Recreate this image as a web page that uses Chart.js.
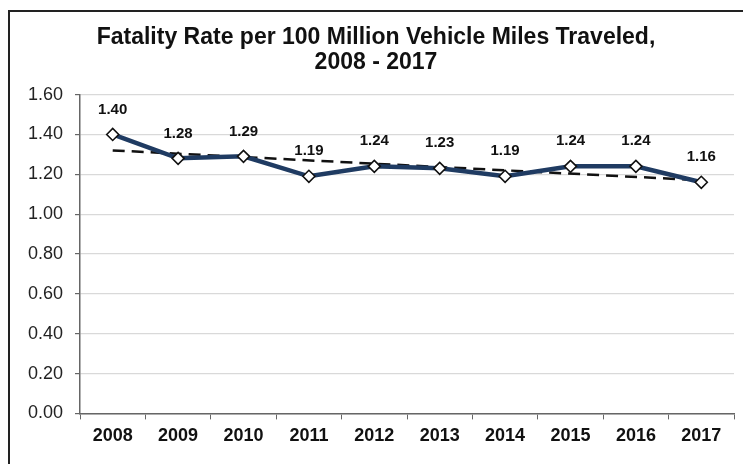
<!DOCTYPE html>
<html><head><meta charset="utf-8">
<script src="https://cdn.jsdelivr.net/npm/chart.js@4/dist/chart.umd.min.js"></script>
<style>
html,body{margin:0;padding:0;background:#fff;overflow:hidden}
#wrap{position:relative;width:743px;height:464px}
#frame{position:absolute;left:8px;top:10px;width:800px;height:600px;border-left:2px solid #222;border-top:2px solid #222;box-sizing:border-box;pointer-events:none}
canvas{position:absolute;left:0;top:0}
</style></head>
<body><div id="wrap"><canvas id="c" width="743" height="464"></canvas><div id="frame"></div></div>
<script>
const years = ['2008','2009','2010','2011','2012','2013','2014','2015','2016','2017'];
const fatalityRate = [1.40,1.28,1.29,1.19,1.24,1.23,1.19,1.24,1.24,1.16];
const trendEnds = [1.32,null,null,null,null,null,null,null,null,1.17];
const yTicks = [0,0.2,0.4,0.6,0.8,1.0,1.2,1.4,1.6];
const titleLines = ['Fatality Rate per 100 Million Vehicle Miles Traveled,','2008 - 2017'];

const FONT = '"Liberation Sans", Arial, sans-serif';

const labelPlugin = {
  id:'pointLabels',
  afterDatasetsDraw(chart){
    const ctx = chart.ctx;
    const meta = chart.getDatasetMeta(0);
    ctx.save();
    ctx.font = 'bold 15px ' + FONT;
    ctx.fillStyle = '#111';
    ctx.textAlign = 'center';
    ctx.textBaseline = 'middle';
    meta.data.forEach((pt,i)=>{
      ctx.fillText(fatalityRate[i].toFixed(2), pt.x, pt.y - 25);
    });
    ctx.restore();
  }
};

new Chart(document.getElementById('c'), {
  type:'line',
  data:{
    labels: years,
    datasets:[
      {
        data: fatalityRate,
        borderColor:'#1f3b62',
        borderWidth:4.5,
        pointStyle:'rectRot',
        pointRadius:6,
        pointBackgroundColor:'#fff',
        pointBorderColor:'#111',
        pointBorderWidth:1.6,
        tension:0,
        order:1
      },
      {
        data: trendEnds,
        spanGaps:true,
        borderColor:'#111',
        borderWidth:2.5,
        borderDash:[12,7],
        pointRadius:0,
        tension:0,
        order:2
      }
    ]
  },
  options:{
    responsive:false,
    animation:false,
    devicePixelRatio:1,
    layout:{padding:{left:18,right:9,top:0,bottom:11}},
    plugins:{
      legend:{display:false},
      tooltip:{enabled:false},
      title:{
        display:true,
        text: titleLines,
        color:'#111',
        font:{family:FONT,size:23,weight:'bold',lineHeight:1.1},
        padding:{top:25,bottom:19}
      }
    },
    scales:{
      x:{
        offset:true,
        grid:{display:true,drawOnChartArea:false,offset:true,tickLength:6,tickColor:'#666'},
        border:{color:'#666',width:1.5},
        ticks:{color:'#111',font:{family:FONT,size:18,weight:'bold'},padding:6,maxRotation:0}
      },
      y:{
        min:0,max:1.6,
        afterBuildTicks(scale){ scale.ticks = yTicks.map(v=>({value:v})); },
        afterFit(scale){ scale.width = 62; },
        grid:{color:'#d9d9d9',tickColor:'#666',tickLength:5,lineWidth:1.2},
        border:{color:'#666',width:1.5},
        ticks:{color:'#222',font:{family:FONT,size:18},padding:12,callback:v=>Number(v).toFixed(2)}
      }
    }
  },
  plugins:[labelPlugin]
});
</script>
</body></html>
